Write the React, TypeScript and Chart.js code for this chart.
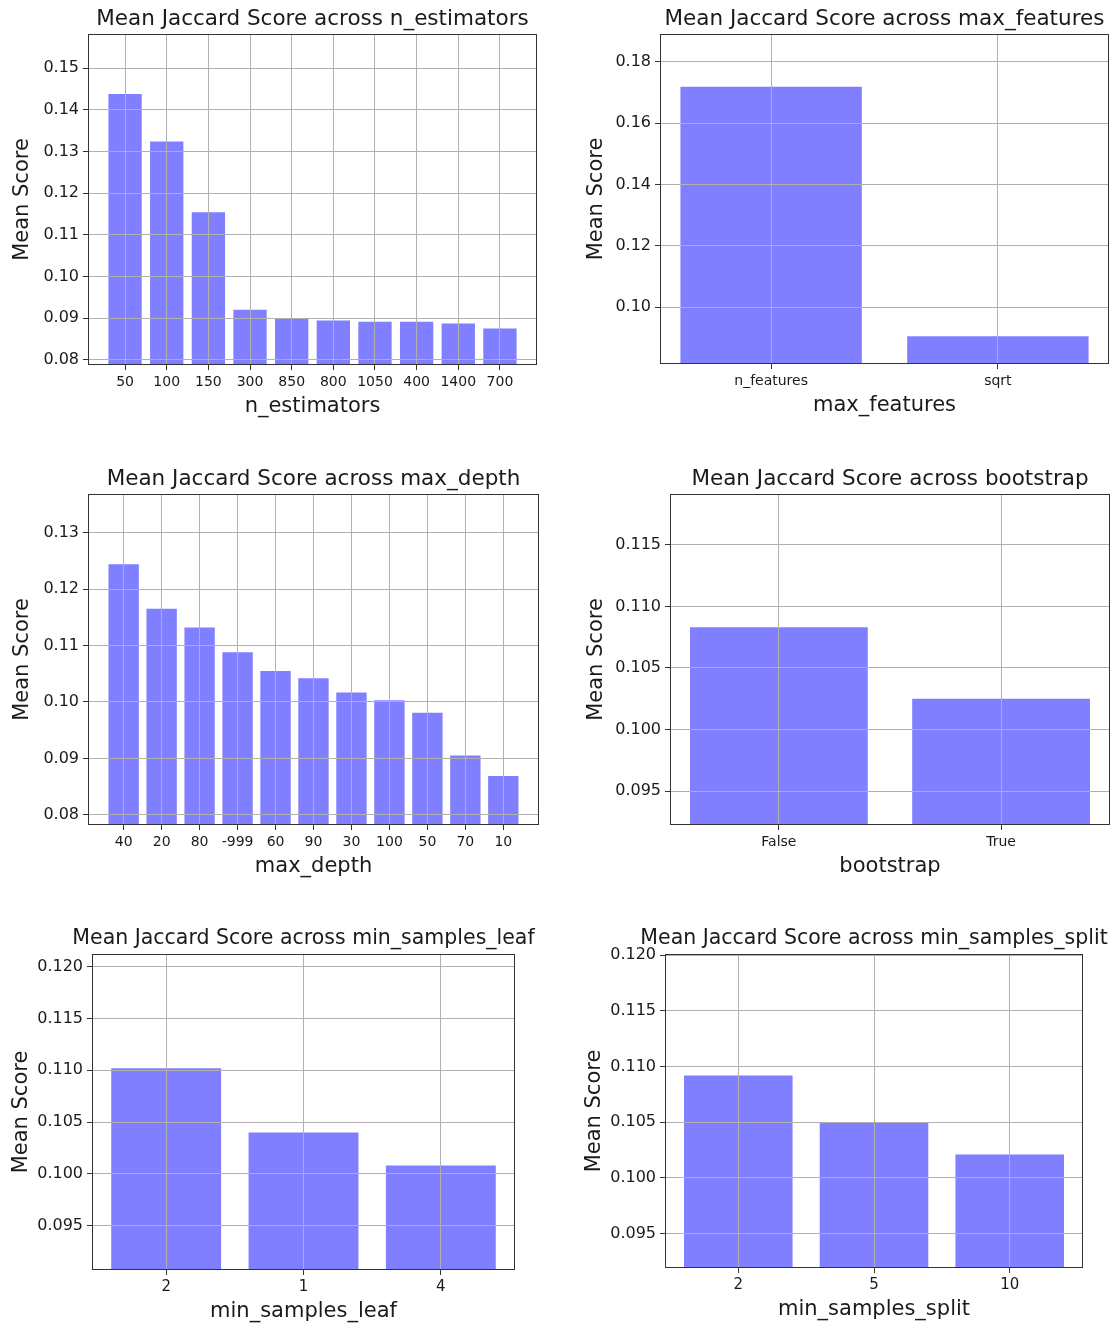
import React, { useEffect, useRef } from 'react';
import { Chart, registerables } from 'chart.js';

Chart.register(...registerables);

// ---------- data ----------
const nEstimatorsCats = ['50', '100', '150', '300', '850', '800', '1050', '400', '1400', '700'];
const nEstimatorsVals = [0.1438, 0.1324, 0.1154, 0.092, 0.09, 0.0894, 0.0891, 0.0891, 0.0887, 0.0875];
const nEstimatorsTicks = ['0.08', '0.09', '0.10', '0.11', '0.12', '0.13', '0.14', '0.15'];

const maxFeaturesCats = ['n_features', 'sqrt'];
const maxFeaturesVals = [0.1718, 0.0906];
const maxFeaturesTicks = ['0.10', '0.12', '0.14', '0.16', '0.18'];

const maxDepthCats = ['40', '20', '80', '-999', '60', '90', '30', '100', '50', '70', '10'];
const maxDepthVals = [0.1244, 0.1165, 0.1132, 0.1088, 0.1055, 0.1042, 0.1017, 0.1003, 0.0981, 0.0905, 0.0869];
const maxDepthTicks = ['0.08', '0.09', '0.10', '0.11', '0.12', '0.13'];

const bootstrapCats = ['False', 'True'];
const bootstrapVals = [0.1083, 0.1025];
const bootstrapTicks = ['0.095', '0.100', '0.105', '0.110', '0.115'];

const minLeafCats = ['2', '1', '4'];
const minLeafVals = [0.1102, 0.104, 0.1008];
const minLeafTicks = ['0.095', '0.100', '0.105', '0.110', '0.115', '0.120'];

const minSplitCats = ['2', '5', '10'];
const minSplitVals = [0.1092, 0.105, 0.1021];
const minSplitTicks = ['0.095', '0.100', '0.105', '0.110', '0.115', '0.120'];

// ---------- layout / style ----------
const FONT = "'DejaVu Sans', 'Liberation Sans', sans-serif";
const TEXT = '#1a1a1a';
const BAR = 'rgba(0, 0, 255, 0.5)';
const GRID = '#b0b0b0';
const SPINE = '#333333';

type Box = { L: number; R: number; T: number; B: number; yl: number };
type PanelDef = {
  title: string;
  xLabel: string;
  cats: string[];
  vals: number[];
  yTicks: string[];
  xTickSize: number;
  titleSize: number;
  box: Box;
};

const panels: PanelDef[] = [
  { title: 'Mean Jaccard Score across n_estimators', xLabel: 'n_estimators', cats: nEstimatorsCats, vals: nEstimatorsVals, yTicks: nEstimatorsTicks, xTickSize: 14, titleSize: 21.5, box: { L: 88, R: 537, T: 34, B: 365, yl: 23 } },
  { title: 'Mean Jaccard Score across max_features', xLabel: 'max_features', cats: maxFeaturesCats, vals: maxFeaturesVals, yTicks: maxFeaturesTicks, xTickSize: 14, titleSize: 21.5, box: { L: 660, R: 1109, T: 34, B: 364, yl: 597 } },
  { title: 'Mean Jaccard Score across max_depth', xLabel: 'max_depth', cats: maxDepthCats, vals: maxDepthVals, yTicks: maxDepthTicks, xTickSize: 14, titleSize: 21.5, box: { L: 88, R: 539, T: 494, B: 825, yl: 23 } },
  { title: 'Mean Jaccard Score across bootstrap', xLabel: 'bootstrap', cats: bootstrapCats, vals: bootstrapVals, yTicks: bootstrapTicks, xTickSize: 14, titleSize: 21.5, box: { L: 670, R: 1110, T: 494, B: 825, yl: 597 } },
  { title: 'Mean Jaccard Score across min_samples_leaf', xLabel: 'min_samples_leaf', cats: minLeafCats, vals: minLeafVals, yTicks: minLeafTicks, xTickSize: 15, titleSize: 20.5, box: { L: 92, R: 515, T: 954, B: 1270, yl: 22 } },
  { title: 'Mean Jaccard Score across min_samples_split', xLabel: 'min_samples_split', cats: minSplitCats, vals: minSplitVals, yTicks: minSplitTicks, xTickSize: 15, titleSize: 20.5, box: { L: 665, R: 1083, T: 954, B: 1268, yl: 595 } },
];

const framePlugin = {
  id: 'frame',
  afterDraw(chart: any) {
    const { ctx, chartArea } = chart;
    const { left, top, right, bottom } = chartArea;
    ctx.save();
    ctx.strokeStyle = SPINE;
    ctx.lineWidth = 1;
    ctx.strokeRect(Math.round(left) + 0.5, Math.round(top) + 0.5, Math.round(right - left) - 1, Math.round(bottom - top) - 1);
    ctx.restore();
  },
};

function Panel({ p }: { p: PanelDef }) {
  const ref = useRef<HTMLCanvasElement>(null);
  const { L, R, T, B, yl } = p.box;
  const cl = yl - 12;
  const cr = L + R - cl;
  const ct = T - 34;
  const cb = B + 54;
  const w = cr - cl;
  const h = cb - ct;

  useEffect(() => {
    if (!ref.current) return;
    const n = p.cats.length;
    const margin = 0.05 * (n - 1 + 0.8);
    const xMin = -0.4 - margin;
    const xMax = n - 1 + 0.4 + margin;
    const yMin = Math.min(...p.vals) * 0.9;
    const yMax = Math.max(...p.vals) * 1.1;
    const yTickVals = p.yTicks.map(Number);

    const chart = new Chart(ref.current, {
      type: 'bar',
      data: {
        datasets: [
          {
            data: p.vals.map((v, i) => ({ x: i, y: v })),
            backgroundColor: BAR,
            borderWidth: 0,
            categoryPercentage: 1,
            barPercentage: 0.8,
          } as any,
        ],
      },
      options: {
        responsive: false,
        animation: false,
        devicePixelRatio: 1,
        layout: { padding: 0 },
        plugins: {
          legend: { display: false },
          tooltip: { enabled: false },
          title: {
            display: true,
            text: p.title,
            color: TEXT,
            font: { family: FONT, size: p.titleSize, weight: 'normal', lineHeight: '24px' } as any,
            padding: { top: 7, bottom: 3 },
          },
        },
        scales: {
          x: {
            type: 'linear',
            position: 'bottom',
            min: xMin,
            max: xMax,
            offset: false,
            bounds: 'data',
            afterBuildTicks: (s: any) => {
              s.ticks = p.cats.map((_, i) => ({ value: i }));
            },
            afterFit: (s: any) => {
              s.height = 54;
            },
            ticks: {
              autoSkip: false,
              maxRotation: 0,
              minRotation: 0,
              padding: 4,
              color: TEXT,
              font: { family: FONT, size: p.xTickSize, lineHeight: '16px' } as any,
              callback: (v: any) => p.cats[Math.round(Number(v))] ?? '',
            },
            grid: { color: GRID, lineWidth: 1, tickColor: SPINE, tickLength: 5, offset: false, drawTicks: true, z: 1 },
            border: { display: false },
            title: {
              display: true,
              text: p.xLabel,
              color: TEXT,
              font: { family: FONT, size: 21, lineHeight: '24px' } as any,
              padding: 0,
            },
          } as any,
          y: {
            type: 'linear',
            position: 'left',
            min: yMin,
            max: yMax,
            bounds: 'data',
            afterBuildTicks: (s: any) => {
              s.ticks = yTickVals.map((v) => ({ value: v }));
            },
            afterFit: (s: any) => {
              s.width = L - cl;
            },
            ticks: {
              padding: 4,
              color: TEXT,
              font: { family: FONT, size: 16, lineHeight: '18px' } as any,
              callback: (_v: any, i: number) => p.yTicks[i],
            },
            grid: { color: GRID, lineWidth: 1, tickColor: SPINE, tickLength: 5, drawTicks: true, z: 1 },
            border: { display: false },
            title: {
              display: true,
              text: 'Mean Score',
              color: TEXT,
              font: { family: FONT, size: 21, lineHeight: '24px' } as any,
              padding: 0,
            },
          } as any,
          y2: {
            type: 'linear',
            position: 'right',
            display: true,
            afterFit: (s: any) => {
              s.width = cr - R;
            },
            ticks: { display: false },
            grid: { display: false, drawOnChartArea: false, drawTicks: false },
            border: { display: false },
          } as any,
        },
      },
      plugins: [framePlugin],
    });
    return () => chart.destroy();
  }, []);

  return (
    <canvas
      ref={ref}
      width={w}
      height={h}
      style={{ position: 'absolute', left: cl, top: ct, width: w, height: h }}
    />
  );
}

export default function App() {
  return (
    <div
      style={{
        position: 'absolute',
        left: 0,
        top: 0,
        width: 1115,
        height: 1325,
        overflow: 'hidden',
        background: '#ffffff',
      }}
    >
      {panels.map((p, i) => (
        <Panel key={i} p={p} />
      ))}
    </div>
  );
}
